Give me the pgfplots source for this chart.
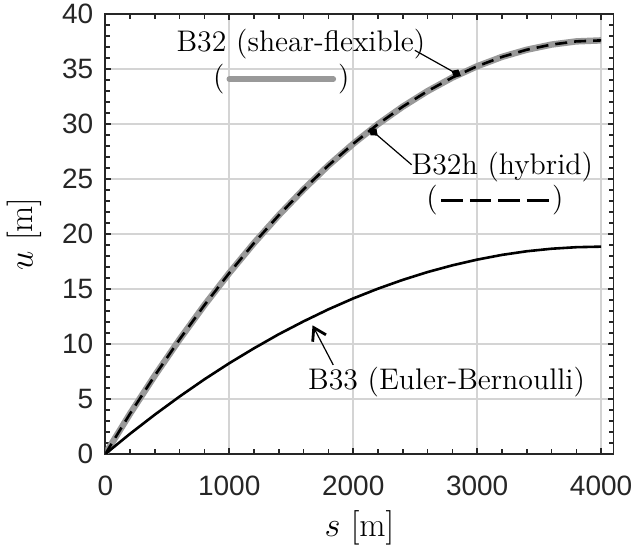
\documentclass[border=0pt]{standalone}
\usepackage{fontspec}
\newfontfamily\arial{Liberation Sans}
\usepackage{pgfplots}
\pgfplotsset{compat=1.18}
\usetikzlibrary{arrows.meta}
\definecolor{axgray}{HTML}{262626}
\definecolor{gridgray}{HTML}{D4D4D4}
\definecolor{curvegray}{HTML}{999999}
\tikzset{annotation/.style={font=\fontsize{14.9}{17}\selectfont}}

\begin{document}
\begin{tikzpicture}
\begin{axis}[
    name=ax,
    scale only axis, width=254.1pt, height=220pt,
    xmin=0, xmax=4100, ymin=0, ymax=40,
    xtick={0,1000,...,4000}, ytick={0,5,...,40},
    minor x tick num=4, minor y tick num=4,
    tick align=inside,
    axis line style={axgray, line width=0.9pt},
    every tick/.style={axgray, line width=0.8pt},
    major tick length=3pt, minor tick length=2.5pt,
    grid=major, major grid style={gridgray, line width=1pt},
    /pgf/number format/assume math mode=true,
    scaled ticks=false,
    /pgf/number format/set thousands separator={},
    ticklabel style={font=\arial\fontsize{14}{16}\selectfont, text=axgray},
    xticklabel style={yshift=-7.5pt},
    yticklabel style={xshift=-2.5pt},
    label style={font=\fontsize{17}{20}\selectfont},
    xlabel={$s~[\mathrm{m}]$},
    ylabel={$u~[\mathrm{m}]$},
    xlabel style={at={(axis description cs:0.5,-0.168)}, anchor=center},
    ylabel style={at={(axis description cs:-0.16,0.5)}, anchor=center},
]
% B32 (shear-flexible)
\addplot[curvegray, line width=3.2pt] coordinates {
  (0,0) (200,3.67) (400,7.14) (600,10.43) (800,13.54) (1000,16.45)
  (1200,19.18) (1400,21.71) (1600,24.06) (1800,26.23) (2000,28.20)
  (2200,29.99) (2400,31.58) (2600,32.99) (2800,34.22) (3000,35.25)
  (3200,36.10) (3400,36.75) (3600,37.22) (3800,37.51) (4000,37.60)};
% B32h (hybrid)
\addplot[black, line width=1.3pt, dash pattern=on 6pt off 3.5pt] coordinates {
  (0,0) (200,3.67) (400,7.14) (600,10.43) (800,13.54) (1000,16.45)
  (1200,19.18) (1400,21.71) (1600,24.06) (1800,26.23) (2000,28.20)
  (2200,29.99) (2400,31.58) (2600,32.99) (2800,34.22) (3000,35.25)
  (3200,36.10) (3400,36.75) (3600,37.22) (3800,37.51) (4000,37.60)};
% B33 (Euler-Bernoulli)
\addplot[black, line width=1.3pt] coordinates {
  (0,0) (200,1.84) (400,3.58) (600,5.23) (800,6.79) (1000,8.25)
  (1200,9.61) (1400,10.89) (1600,12.06) (1800,13.15) (2000,14.14)
  (2200,15.03) (2400,15.83) (2600,16.54) (2800,17.15) (3000,17.67)
  (3200,18.10) (3400,18.43) (3600,18.66) (3800,18.80) (4000,18.85)};

% annotations
\node[annotation, anchor=base] at (axis cs:1578,36.6) {B32 (shear-flexible)};
\node[annotation, anchor=center] at (axis cs:1420,34.1)
  {(\hspace{1pt}\tikz[baseline=-3.6pt]\draw[curvegray, line width=2.8pt, line cap=round] (0,0) -- (52pt,0);\hspace{1pt})};
\draw[black, line width=0.6pt, -{Diamond[length=5.5pt,width=4.5pt]}]
  (axis cs:2497,36.7) -- (axis cs:2870,34.35);

\node[annotation, anchor=base] at (axis cs:3203,25.4) {B32h (hybrid)};
\node[annotation, anchor=center] at (axis cs:3143,23.1)
  {(\hspace{1pt}\tikz[baseline=-3.6pt]\draw[black, line width=1.5pt, dash pattern=on 10.8pt off 3.5pt] (0,0) -- (53.7pt,0);\hspace{1pt})};
\draw[black, line width=0.6pt, -{Diamond[length=5.5pt,width=4.5pt]}]
  (axis cs:2471,26.3) -- (axis cs:2130,29.6);

\node[annotation, anchor=base] at (axis cs:2753,5.88) {B33 (Euler-Bernoulli)};
\draw[black, line width=0.6pt, -{Straight Barb[length=6pt,width=7.5pt,line width=1.4pt]}]
  (axis cs:1839,8.1) -- (axis cs:1672,11.7);
\end{axis}
\pgfresetboundingbox
\path[use as bounding box] ([shift={(-52.65pt,-47.5pt)}]ax.south west)
  rectangle ([shift={(8.75pt,7pt)}]ax.north east);
\end{tikzpicture}
\end{document}
